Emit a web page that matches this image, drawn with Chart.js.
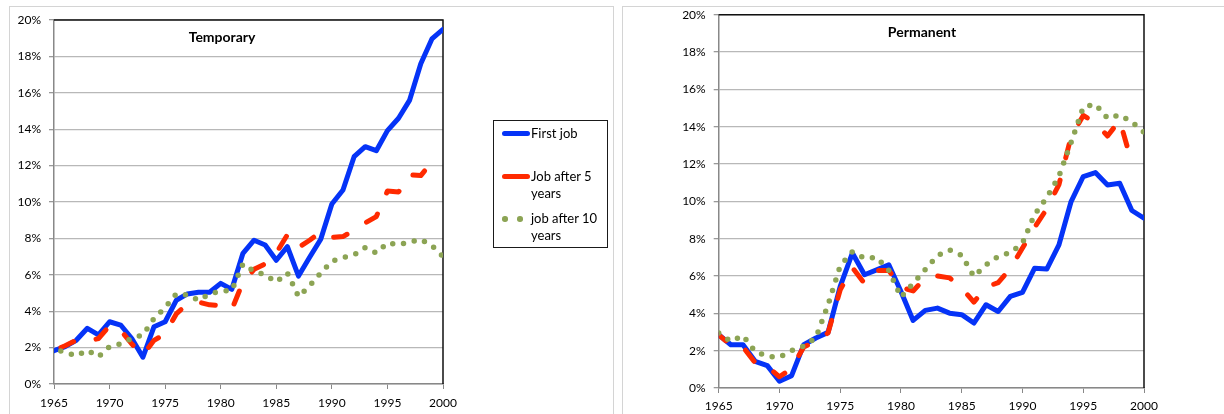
<!DOCTYPE html>
<html>
<head>
<meta charset="utf-8">
<script src="https://cdn.jsdelivr.net/npm/chart.js@4.4.1/dist/chart.umd.min.js"></script>
<style>
  html, body { margin: 0; padding: 0; background: #fff; }
  body { width: 1224px; height: 414px; position: relative; overflow: hidden; font-family: Lato, sans-serif; }
  .frame { position: absolute; top: 6px; height: 440px; border: 1px solid #d4d4d4; }
  #frameL { left: 9px; width: 603px; }
  #frameR { left: 622px; width: 660px; }
  canvas { position: absolute; }
  #cTemp { left: 10px; top: 7px; }
  #cPerm { left: 623px; top: 7px; }
  #legend { position: absolute; left: 493px; top: 120px; width: 113px; height: 126px; border: 1px solid #1a1a1a; background: #fff; }
  .item { position: absolute; left: 8px; font-size: 13px; line-height: 17px; color: #000; }
  .item .txt { position: absolute; left: 29px; top: 0; width: 78px; white-space: normal; }
  .item .line { position: absolute; left: 0; top: 6px; width: 28px; height: 5px; border-radius: 3px; }
  .item .dot { position: absolute; top: 6px; width: 5.5px; height: 5.5px; border-radius: 50%; }
</style>
</head>
<body>
<div class="frame" id="frameL"></div>
<div class="frame" id="frameR"></div>
<canvas id="cTemp" width="603" height="407"></canvas>
<canvas id="cPerm" width="601" height="407"></canvas>
<div id="legend"></div>
<script>
// anos e valores (%)
const years = [1965, 1966, 1967, 1968, 1969, 1970, 1971, 1972, 1973, 1974, 1975, 1976,
               1977, 1978, 1979, 1980, 1981, 1982, 1983, 1984, 1985, 1986, 1987, 1988,
               1989, 1990, 1991, 1992, 1993, 1994, 1995, 1996, 1997, 1998, 1999, 2000];

const tempFirst = [1.83, 2.05, 2.4, 3.06, 2.7, 3.42, 3.24, 2.5, 1.47, 3.15, 3.42, 4.6,
                   4.95, 5.04, 5.04, 5.53, 5.2, 7.18, 7.9, 7.64, 6.8, 7.55, 5.93, 6.96,
                   7.95, 9.89, 10.66, 12.49, 13.04, 12.82, 13.92, 14.6, 15.6, 17.6, 18.96, 19.49];
const tempFive  = [1.85, 2.1, 2.4, 2.35, 2.5, 3.2, 2.95, 2.2, 1.6, 2.4, 2.75, 3.85,
                   4.4, 4.5, 4.35, 4.3, 4.1, 5.6, 6.3, 6.6, 7.2, 8.2, 7.5, 7.9,
                   8.35, 8.05, 8.1, 8.45, 8.85, 9.2, 10.6, 10.55, 11.5, 11.45, 12.2, null];
const tempTen   = [1.9, 1.75, 1.55, 1.85, 1.5, 2.05, 2.2, 2.5, 2.7, 3.6, 4.2, 4.95,
                   4.9, 4.6, 4.95, 5.1, 5.15, 6.6, 6.2, 6.0, 5.6, 6.1, 4.8, 5.4,
                   6.1, 6.75, 6.95, 7.1, 7.5, 7.2, 7.75, 7.65, 7.8, 7.95, 7.6, 7.0];

const permFirst = [2.85, 2.32, 2.32, 1.43, 1.2, 0.36, 0.66, 2.32, 2.68, 2.98, 5.44, 7.23,
                   6.07, 6.33, 6.6, 5.17, 3.62, 4.16, 4.28, 4.01, 3.93, 3.48, 4.46, 4.1,
                   4.91, 5.12, 6.42, 6.37, 7.67, 9.99, 11.33, 11.54, 10.88, 10.97, 9.51, 9.1];
const permFive  = [2.85, 2.3, 2.2, 1.35, 1.15, 0.6, 1.05, 2.2, 2.5, 2.95, 5.26, 6.45,
                   5.6, 6.3, 6.3, 5.4, 5.2, 5.9, 6.0, 5.9, 5.35, 4.6, 5.4, 5.65,
                   6.4, 7.5, 8.6, 9.6, 10.9, 13.47, 14.6, 14.2, 13.5, 14.35, 12.05, null];
const permTen   = [2.95, 2.5, 2.8, 1.95, 1.7, 1.65, 2.0, 2.25, 2.7, 4.46, 6.55, 7.3,
                   6.95, 7.0, 6.3, 4.87, 5.6, 6.35, 7.1, 7.4, 7.1, 5.98, 6.6, 7.05,
                   7.25, 7.76, 9.3, 10.2, 11.35, 13.15, 15.05, 15.2, 14.45, 14.63, 14.25, 13.7];

const seriesLabels = ['First job', 'Job after 5 years', 'job after 10 years'];
const yTicks = [0, 2, 4, 6, 8, 10, 12, 14, 16, 18, 20];
const xTicks = [1965, 1970, 1975, 1980, 1985, 1990, 1995, 2000];

// estilo de cada serie: continua, tracejada, pontilhada
const estilos = [
  { color: '#0533F7', width: 5,   dash: [],       order: 3 },
  { color: '#FF2A00', width: 5,   dash: [14, 23], order: 2 },
  { color: '#8CA454', width: 5.5, dash: [0, 11],  order: 1 }
];

Chart.defaults.font.family = 'Lato, sans-serif';
Chart.defaults.font.size = 12;
Chart.defaults.color = '#000';

// titulo dentro da area do grafico
const tituloInterno = {
  id: 'tituloInterno',
  afterDraw(chart, args, o) {
    const a = chart.chartArea, ctx = chart.ctx;
    ctx.save();
    ctx.font = 'bold 14px Lato, sans-serif';
    ctx.fillStyle = '#000';
    ctx.textAlign = 'center';
    ctx.textBaseline = 'middle';
    ctx.fillText(o.text, a.left + a.width * o.xFrac, a.top + o.dy);
    ctx.restore();
  }
};

// moldura preta em cima e a direita da area do grafico
const moldura = {
  id: 'moldura',
  beforeDatasetsDraw(chart) {
    const a = chart.chartArea, ctx = chart.ctx;
    ctx.save();
    ctx.strokeStyle = '#111';
    ctx.lineWidth = 1.5;
    ctx.beginPath();
    ctx.moveTo(a.left, a.top);
    ctx.lineTo(a.right, a.top);
    ctx.lineTo(a.right, a.bottom);
    ctx.stroke();
    ctx.restore();
  }
};

function grafico(id, series, cfg) {
  new Chart(document.getElementById(id), {
    type: 'line',
    data: {
      datasets: series.map((vals, i) => ({
        label: seriesLabels[i],
        data: years.map((ano, k) => ({ x: ano, y: vals[k] })),
        borderColor: estilos[i].color,
        borderWidth: estilos[i].width,
        borderDash: estilos[i].dash,
        borderDashOffset: cfg.offsets[i],
        borderCapStyle: 'round',
        borderJoinStyle: 'round',
        pointRadius: 0,
        tension: 0,
        fill: false,
        order: estilos[i].order
      }))
    },
    options: {
      responsive: false,
      animation: false,
      events: [],
      layout: { padding: cfg.padding },
      plugins: {
        legend: { display: false },
        tooltip: { enabled: false },
        tituloInterno: cfg.title
      },
      scales: {
        x: {
          type: 'linear', min: 1965, max: 2000,
          afterBuildTicks: s => { s.ticks = xTicks.map(v => ({ value: v })); },
          afterFit: s => { s.height = cfg.xHeight; s.paddingLeft = 0; s.paddingRight = 0; },
          ticks: { callback: v => String(v), padding: cfg.xPad, maxRotation: 0, font: { size: 12 } },
          grid: { drawOnChartArea: false, drawTicks: true, tickLength: 5, color: '#888' },
          border: { color: '#888', width: 1.5 }
        },
        y: {
          min: 0, max: 20,
          afterBuildTicks: s => { s.ticks = yTicks.map(v => ({ value: v })); },
          afterFit: s => { s.width = cfg.yWidth; s.paddingTop = 0; s.paddingBottom = 0; },
          ticks: { callback: v => v + '%', padding: cfg.yPad, font: { size: 12 } },
          grid: { color: '#b8b8b8', lineWidth: 1.3, tickLength: 5, tickColor: '#999' },
          border: { color: '#888', width: 1.5 }
        }
      }
    },
    plugins: [moldura, tituloInterno]
  });
}

grafico('cTemp', [tempFirst, tempFive, tempTen], {
  padding: { left: 0, right: 170, top: 13, bottom: 0 },
  yWidth: 44, xHeight: 30, yPad: 8, xPad: 7,
  offsets: [0, 29.5, 4],
  title: { text: 'Temporary', xFrac: 0.432, dy: 17 }
});

grafico('cPerm', [permFirst, permFive, permTen], {
  padding: { left: 45.7, right: 80, top: 7.7, bottom: 0 },
  yWidth: 50, xHeight: 26, yPad: 8, xPad: 6,
  offsets: [0, 4.7, 0],
  title: { text: 'Permanent', xFrac: 0.478, dy: 18 }
});

// legenda ao lado do grafico da esquerda
const legenda = document.getElementById('legend');
const topos = [4, 47, 89];
seriesLabels.forEach((txt, i) => {
  const e = estilos[i];
  const marca = e.dash.length && e.dash[0] === 0
    ? `<span class="dot" style="left:0;background:${e.color}"></span><span class="dot" style="left:15px;background:${e.color}"></span>`
    : `<span class="line" style="background:${e.color}"></span>`;
  legenda.insertAdjacentHTML('beforeend',
    `<div class="item" style="top:${topos[i]}px">${marca}<span class="txt">${txt}</span></div>`);
});
</script>
</body>
</html>
